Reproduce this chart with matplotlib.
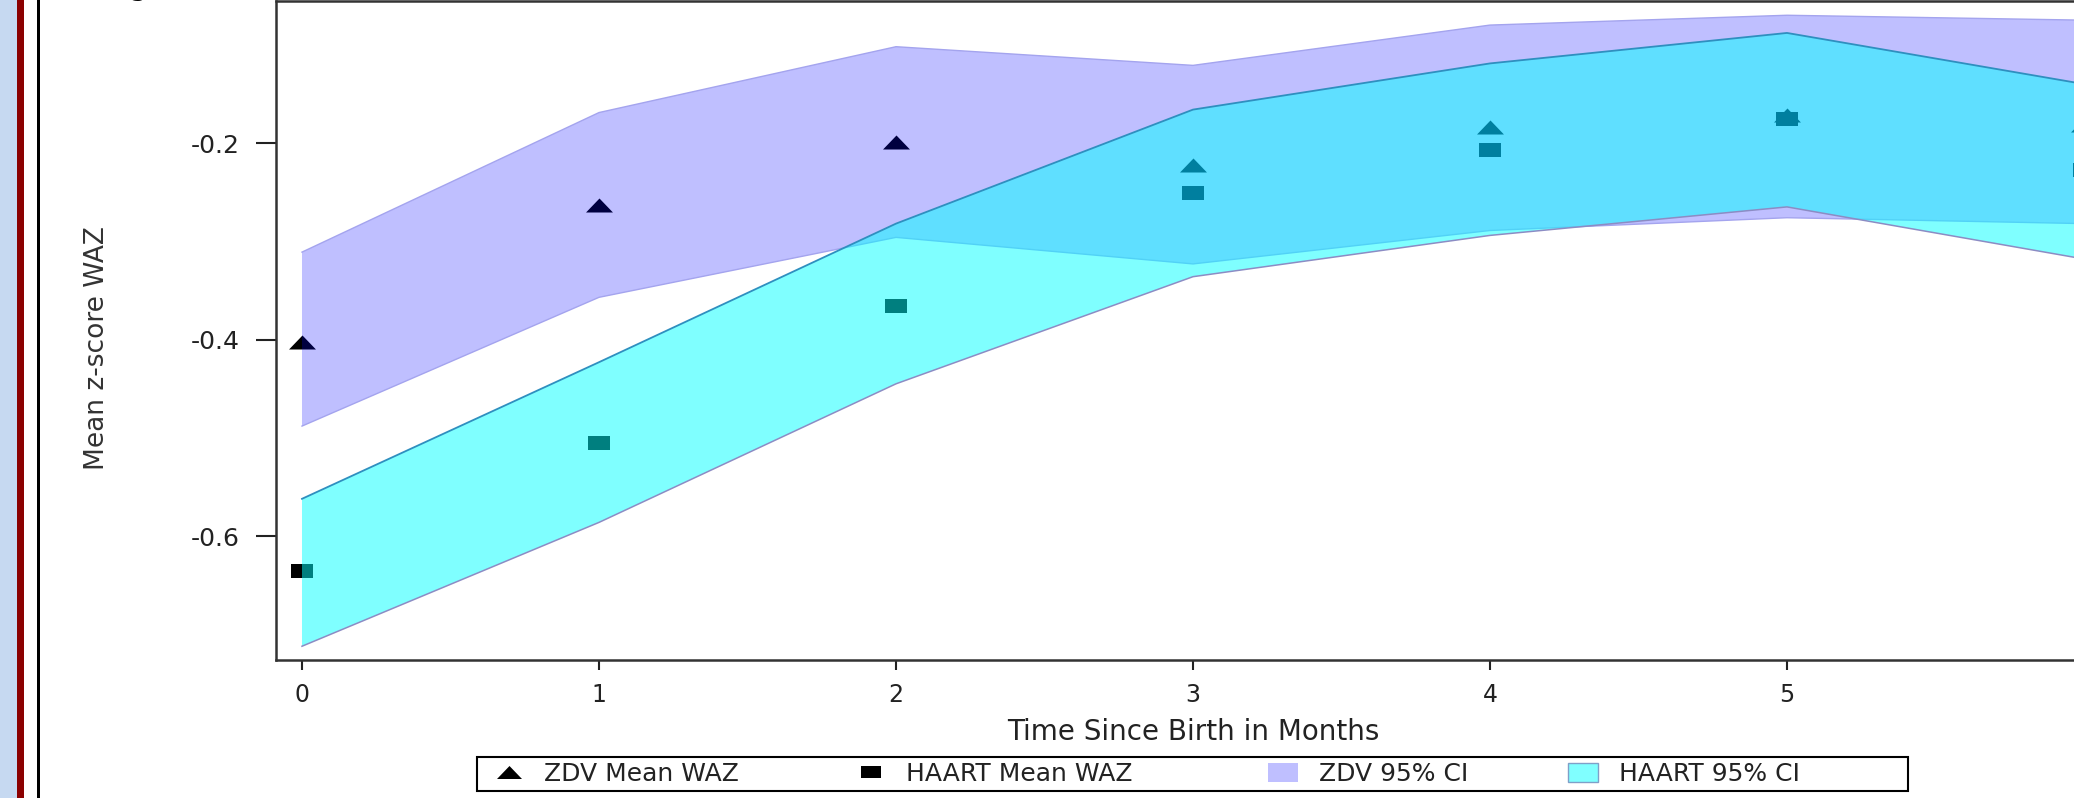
import matplotlib
matplotlib.use("Agg")
import matplotlib.pyplot as plt
from matplotlib.lines import Line2D
from matplotlib.patches import Patch, Rectangle

plt.rcParams['font.family'] = ['DejaVu Sans']
plt.rcParams['axes.unicode_minus'] = False

# ---- data ----
months = [0, 1, 2, 3, 4, 5, 6]
zdv_mean = [-0.402, -0.263, -0.199, -0.222, -0.184, -0.171, -0.182]
haart_mean = [-0.635, -0.505, -0.366, -0.251, -0.207, -0.176, -0.227]
zdv_lower = [-0.488, -0.357, -0.296, -0.323, -0.289, -0.276, -0.282]
zdv_upper = [-0.311, -0.169, -0.102, -0.121, -0.080, -0.070, -0.075]
haart_lower = [-0.712, -0.586, -0.445, -0.336, -0.294, -0.265, -0.318]
haart_upper = [-0.562, -0.423, -0.282, -0.166, -0.119, -0.088, -0.140]

x_ticks = [0, 1, 2, 3, 4, 5, 6]
x_tick_labels = ['0', '1', '2', '3', '4', '5', '']  # "6" lies beyond the cropped edge
y_ticks = [-0.6, -0.4, -0.2]
y_tick_labels = ['-0.6', '-0.4', '-0.2']
x_label = 'Time Since Birth in Months'
y_label = 'Mean z-score WAZ'
legend_labels = ['ZDV Mean WAZ', 'HAART Mean WAZ', 'ZDV 95% CI', 'HAART 95% CI']

W, H = 2074, 798
fig = plt.figure(figsize=(W / 100, H / 100), dpi=100)
fig.patch.set_facecolor('white')

# slide decorations on the left edge
fig.add_artist(Rectangle((0, 0), 17 / W, 1, transform=fig.transFigure,
                         facecolor='#c6d9f1', edgecolor='none', zorder=0))
fig.add_artist(Rectangle((17 / W, 0), 7 / W, 1, transform=fig.transFigure,
                         facecolor='#8b0000', edgecolor='none', zorder=0))
fig.add_artist(Rectangle((37 / W, 0), 3 / W, 1, transform=fig.transFigure,
                         facecolor='black', edgecolor='none', zorder=0))
# cut-off title glyph at the top
fig.text(138 / W, 803 / H, 'g', fontsize=22, color='black', ha='center', va='baseline')

# axes (extends past the right edge, as in the cropped reference)
left, bottom_px, top_px, right_px = 276, 660, 1, 2110
ax = fig.add_axes([left / W, (H - bottom_px) / H, (right_px - left) / W,
                   (bottom_px - top_px) / H])
ax.set_xlim(-0.0875, 6.0875)
ax.set_ylim(-0.726, -0.0555)

tri = [(-1, -0.52), (1, -0.52), (0, 0.52), (-1, -0.52)]
sq = [(-1, -0.62), (1, -0.62), (1, 0.62), (-1, 0.62), (-1, -0.62)]

ax.plot(months, zdv_mean, linestyle='none', marker=tri, markersize=19.4,
        color='black', markeredgewidth=0, zorder=2)
ax.plot(months, haart_mean, linestyle='none', marker=sq, markersize=16.0,
        color='black', markeredgewidth=0, zorder=2)

ax.fill_between(months, zdv_lower, zdv_upper, facecolor=(0, 0, 1, 0.25),
                edgecolor='none', zorder=3)
ax.plot(months, zdv_upper, color='#a4a4ee', lw=1.0, zorder=3.1)
ax.plot(months, zdv_lower, color='#a4a4ee', lw=1.0, zorder=3.1)
ax.fill_between(months, haart_lower, haart_upper, facecolor=(0, 1, 1, 0.5),
                edgecolor='none', zorder=4)
ax.plot(months, haart_upper, color='#2f8fbf', lw=1.3, zorder=4.1)
ax.plot(months, haart_lower, color='#8c8cc4', lw=1.1, zorder=4.1)

for s in ax.spines.values():
    s.set_linewidth(1.8)
    s.set_color('#333333')

ax.set_xticks(x_ticks)
ax.set_xticklabels(x_tick_labels)
ax.set_yticks(y_ticks)
ax.set_yticklabels(y_tick_labels)
ax.tick_params(axis='y', length=14.4, width=1.5, pad=11.5, labelsize=18,
               color='#222222', labelcolor='#222222')
ax.tick_params(axis='x', length=7.2, width=1.5, pad=9, labelsize=17,
               color='#222222', labelcolor='#222222')

ax.set_xlabel(x_label, fontsize=20, color='#222222')
ax.xaxis.set_label_coords(0.5, (bottom_px - 732) / (bottom_px - top_px))
ax.xaxis.label.set_va('center')
ax.set_ylabel(y_label, fontsize=19, color='#333333')
ax.yaxis.set_label_coords((97 - left) / (right_px - left),
                          (bottom_px - 348) / (bottom_px - top_px))
ax.yaxis.label.set_va('center')

# legend: one framed box with four entries placed as in the reference
handles = [
    Line2D([], [], linestyle='none', marker=tri, markersize=18, color='black', markeredgewidth=0),
    Line2D([], [], linestyle='none', marker=sq, markersize=15, color='black', markeredgewidth=0),
    Patch(facecolor='#bfbfff', edgecolor='none'),
    Patch(facecolor='#80ffff', edgecolor='#7f9fc8', linewidth=1.0),
]
entry_left_px = [495, 857, 1268, 1568]
box_l, box_r, box_t, box_b = 477, 1908, 757, 791
fig.add_artist(Rectangle((box_l / W, 1 - box_b / H), (box_r - box_l) / W,
                         (box_b - box_t) / H, transform=fig.transFigure,
                         fill=False, edgecolor='black', linewidth=1.5, zorder=5))
yc = 1 - ((box_t + box_b) / 2) / H
for i, (h, lab, xl) in enumerate(zip(handles, legend_labels, entry_left_px)):
    lg = ax.legend([h], [lab], loc='center left', bbox_to_anchor=(xl / W, yc),
                   bbox_transform=fig.transFigure, fontsize=18, frameon=False,
                   borderpad=0, borderaxespad=0, handlelength=1.1 if i < 2 else 1.2,
                   handleheight=0.8, handletextpad=0.85)
    for t in lg.get_texts():
        t.set_color('#222222')
    if i < 3:
        ax.add_artist(lg)

fig.savefig('out.png', dpi=100)
